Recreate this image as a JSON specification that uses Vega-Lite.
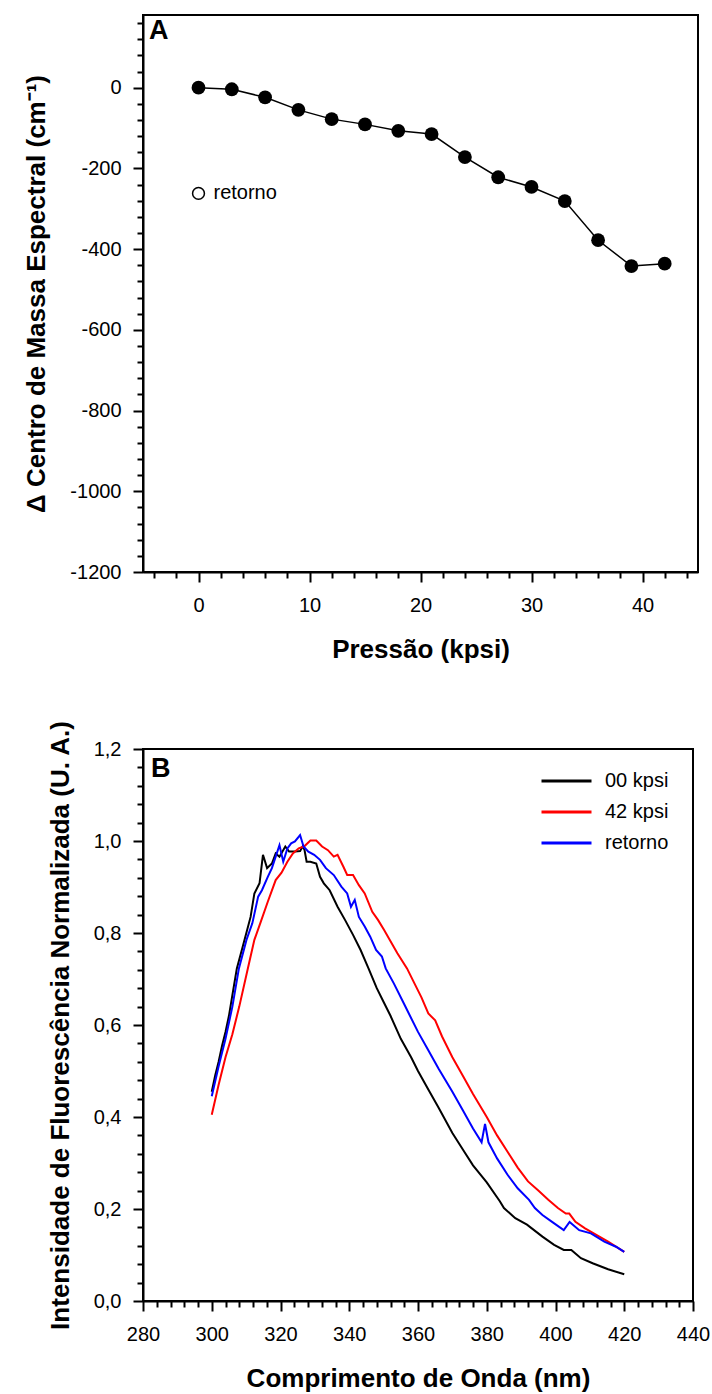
{
"$schema": "https://vega.github.io/schema/vega-lite/v6.json",
"padding": {"left": 22, "top": 12, "right": 5, "bottom": 0},
"spacing": 56,
"resolve": {"legend": {"color": "independent"}},
"config": {
  "view": {"stroke": "black", "strokeWidth": 2},
  "axis": {"domainColor": "black", "domainWidth": 2, "tickColor": "black", "tickWidth": 2, "grid": false,
           "labelFont": "Liberation Sans", "labelFontSize": 20, "labelColor": "black", "labelOverlap": false, "labelBound": false, "labelFlush": false,
           "titleFont": "Liberation Sans", "titleFontSize": 26, "titleFontWeight": "bold", "titleColor": "black"},
  "legend": {"labelFont": "Liberation Sans", "labelFontSize": 20, "labelColor": "black"}
},
"vconcat": [
 {
  "width": 555, "height": 557,
  "encoding": {
    "x": {"field": "p", "type": "quantitative", "scale": {"domain": [-5, 45], "nice": false, "zero": false},
          "axis": {"title": "Pressão (kpsi)", "labelOverlap": false, "values": [-4,-2,0,2,4,6,8,10,12,14,16,18,20,22,24,26,28,30,32,34,36,38,40,42,44],
                   "labelExpr": "datum.value % 10 === 0 ? toString(datum.value) : ''",
                   "tickSize": {"condition": {"test": "datum.value % 10 === 0", "value": 10}, "value": 6},
                   "labelPadding": 13, "titlePadding": 21}},
    "y": {"field": "d", "type": "quantitative", "scale": {"domain": [-1200, 180], "nice": false, "zero": false},
          "axis": {"title": "Δ Centro de Massa Espectral (cm⁻¹)", "labelOverlap": false,
                   "values": [-1200,-1160,-1120,-1080,-1040,-1000,-960,-920,-880,-840,-800,-760,-720,-680,-640,-600,-560,-520,-480,-440,-400,-360,-320,-280,-240,-200,-160,-120,-80,-40,0,40,80,120,160],
                   "labelExpr": "datum.value % 200 === 0 ? toString(datum.value) : ''",
                   "tickSize": {"condition": {"test": "datum.value % 200 === 0", "value": 10}, "value": 6},
                   "labelPadding": 12, "titlePadding": 20}}
  },
  "layer": [
    {"data": {"values": [
      {"p": 0, "d": 0}, {"p": 3, "d": -4}, {"p": 6, "d": -24}, {"p": 9, "d": -55}, {"p": 12, "d": -78},
      {"p": 15, "d": -91}, {"p": 18, "d": -107}, {"p": 21, "d": -115}, {"p": 24, "d": -172}, {"p": 27, "d": -222},
      {"p": 30, "d": -246}, {"p": 33, "d": -281}, {"p": 36, "d": -378}, {"p": 39, "d": -442}, {"p": 42, "d": -436}
     ]},
     "layer": [
       {"mark": {"type": "line", "color": "black", "strokeWidth": 1.5}},
       {"mark": {"type": "point", "filled": true, "color": "black", "size": 190, "opacity": 1}}
     ]},
    {"data": {"values": [{"t": "retorno", "p": 0, "d": -262}]},
     "layer": [
       {"mark": {"type": "point", "filled": false, "color": "black", "strokeWidth": 1.5, "size": 140, "opacity": 1}},
       {"mark": {"type": "text", "align": "left", "baseline": "middle", "dx": 15, "font": "Liberation Sans", "fontSize": 20, "color": "black"},
        "encoding": {"text": {"field": "t"}}}
     ]},
    {"data": {"values": [{"t": "A", "p": -5, "d": 180}]},
     "mark": {"type": "text", "align": "left", "baseline": "top", "dx": 6, "dy": 3, "font": "Liberation Sans", "fontSize": 27, "fontWeight": "bold", "color": "black"},
     "encoding": {"text": {"field": "t"}}}
  ]
 },
 {
  "width": 550, "height": 552,
  "encoding": {
    "x": {"field": "w", "type": "quantitative", "scale": {"domain": [280, 440], "nice": false, "zero": false},
          "axis": {"title": "Comprimento de Onda (nm)", "labelOverlap": false,
                   "values": [280,284,288,292,296,300,304,308,312,316,320,324,328,332,336,340,344,348,352,356,360,364,368,372,376,380,384,388,392,396,400,404,408,412,416,420,424,428,432,436,440],
                   "labelExpr": "datum.value % 20 === 0 ? toString(datum.value) : ''",
                   "tickSize": {"condition": {"test": "datum.value % 20 === 0", "value": 10}, "value": 6},
                   "labelPadding": 13, "titlePadding": 21}},
    "y": {"field": "v", "type": "quantitative", "scale": {"domain": [0, 1.2], "nice": false, "zero": false},
          "axis": {"title": "Intensidade de Fluorescência Normalizada (U. A.)", "labelOverlap": false,
                   "values": [0,0.04,0.08,0.12,0.16,0.2,0.24,0.28,0.32,0.36,0.4,0.44,0.48,0.52,0.56,0.6,0.64,0.68,0.72,0.76,0.8,0.84,0.88,0.92,0.96,1,1.04,1.08,1.12,1.16,1.2],
                   "labelExpr": "abs(datum.value*5 - round(datum.value*5)) < 0.001 ? replace(format(datum.value, '.1f'), '.', ',') : ''",
                   "tickSize": {"condition": {"test": "abs(datum.value*5 - round(datum.value*5)) < 0.001", "value": 10}, "value": 6},
                   "labelPadding": 12, "titlePadding": 20}}
  },
  "layer": [
    {"data": {"values": [
{"s":"00 kpsi","w":300,"v":0.455},{"s":"00 kpsi","w":301,"v":0.49},{"s":"00 kpsi","w":302,"v":0.52},{"s":"00 kpsi","w":303,"v":0.555},{"s":"00 kpsi","w":304,"v":0.585},{"s":"00 kpsi","w":305,"v":0.62},{"s":"00 kpsi","w":306,"v":0.665},{"s":"00 kpsi","w":307.3,"v":0.723},{"s":"00 kpsi","w":309,"v":0.77},{"s":"00 kpsi","w":311.3,"v":0.835},{"s":"00 kpsi","w":312.4,"v":0.886},{"s":"00 kpsi","w":313.9,"v":0.908},{"s":"00 kpsi","w":314.9,"v":0.97},{"s":"00 kpsi","w":316.1,"v":0.941},{"s":"00 kpsi","w":317.5,"v":0.951},{"s":"00 kpsi","w":318.6,"v":0.973},{"s":"00 kpsi","w":319.7,"v":0.966},{"s":"00 kpsi","w":321.4,"v":0.988},{"s":"00 kpsi","w":322.5,"v":0.977},{"s":"00 kpsi","w":324.2,"v":0.977},{"s":"00 kpsi","w":325.7,"v":0.978},{"s":"00 kpsi","w":326.5,"v":0.989},{"s":"00 kpsi","w":327,"v":0.98},{"s":"00 kpsi","w":327.6,"v":0.955},{"s":"00 kpsi","w":328.7,"v":0.955},{"s":"00 kpsi","w":330.4,"v":0.951},{"s":"00 kpsi","w":331.5,"v":0.922},{"s":"00 kpsi","w":332.6,"v":0.908},{"s":"00 kpsi","w":334.3,"v":0.893},{"s":"00 kpsi","w":336.6,"v":0.857},{"s":"00 kpsi","w":338.8,"v":0.828},{"s":"00 kpsi","w":341.1,"v":0.796},{"s":"00 kpsi","w":343.3,"v":0.763},{"s":"00 kpsi","w":345.6,"v":0.723},{"s":"00 kpsi","w":348,"v":0.68},{"s":"00 kpsi","w":350,"v":0.65},{"s":"00 kpsi","w":352,"v":0.62},{"s":"00 kpsi","w":355,"v":0.57},{"s":"00 kpsi","w":358,"v":0.53},{"s":"00 kpsi","w":360,"v":0.5},{"s":"00 kpsi","w":363,"v":0.46},{"s":"00 kpsi","w":366,"v":0.42},{"s":"00 kpsi","w":370,"v":0.365},{"s":"00 kpsi","w":373,"v":0.33},{"s":"00 kpsi","w":376,"v":0.295},{"s":"00 kpsi","w":380,"v":0.258},{"s":"00 kpsi","w":383.8,"v":0.217},{"s":"00 kpsi","w":385,"v":0.202},{"s":"00 kpsi","w":388.3,"v":0.18},{"s":"00 kpsi","w":391.7,"v":0.166},{"s":"00 kpsi","w":396.2,"v":0.14},{"s":"00 kpsi","w":399.6,"v":0.122},{"s":"00 kpsi","w":402.4,"v":0.111},{"s":"00 kpsi","w":404.6,"v":0.111},{"s":"00 kpsi","w":407.4,"v":0.093},{"s":"00 kpsi","w":410.8,"v":0.082},{"s":"00 kpsi","w":415.3,"v":0.069},{"s":"00 kpsi","w":420,"v":0.058},
{"s":"42 kpsi","w":300,"v":0.405},{"s":"42 kpsi","w":302,"v":0.47},{"s":"42 kpsi","w":304,"v":0.53},{"s":"42 kpsi","w":306,"v":0.58},{"s":"42 kpsi","w":308,"v":0.64},{"s":"42 kpsi","w":310.5,"v":0.723},{"s":"42 kpsi","w":312.4,"v":0.785},{"s":"42 kpsi","w":314.1,"v":0.821},{"s":"42 kpsi","w":316.3,"v":0.868},{"s":"42 kpsi","w":318.6,"v":0.915},{"s":"42 kpsi","w":320.3,"v":0.931},{"s":"42 kpsi","w":322,"v":0.955},{"s":"42 kpsi","w":323.6,"v":0.973},{"s":"42 kpsi","w":325.3,"v":0.984},{"s":"42 kpsi","w":327,"v":0.989},{"s":"42 kpsi","w":328.7,"v":1.001},{"s":"42 kpsi","w":330.4,"v":1.001},{"s":"42 kpsi","w":332.1,"v":0.988},{"s":"42 kpsi","w":333.8,"v":0.98},{"s":"42 kpsi","w":335.5,"v":0.966},{"s":"42 kpsi","w":336.6,"v":0.97},{"s":"42 kpsi","w":338.3,"v":0.944},{"s":"42 kpsi","w":339.4,"v":0.926},{"s":"42 kpsi","w":341.1,"v":0.926},{"s":"42 kpsi","w":342.8,"v":0.904},{"s":"42 kpsi","w":344.5,"v":0.886},{"s":"42 kpsi","w":346.7,"v":0.846},{"s":"42 kpsi","w":348.4,"v":0.828},{"s":"42 kpsi","w":350.1,"v":0.807},{"s":"42 kpsi","w":351.8,"v":0.785},{"s":"42 kpsi","w":354,"v":0.756},{"s":"42 kpsi","w":356.8,"v":0.723},{"s":"42 kpsi","w":359,"v":0.69},{"s":"42 kpsi","w":361,"v":0.66},{"s":"42 kpsi","w":363,"v":0.625},{"s":"42 kpsi","w":365,"v":0.61},{"s":"42 kpsi","w":367,"v":0.575},{"s":"42 kpsi","w":370,"v":0.53},{"s":"42 kpsi","w":373,"v":0.49},{"s":"42 kpsi","w":376,"v":0.45},{"s":"42 kpsi","w":380,"v":0.4},{"s":"42 kpsi","w":383,"v":0.36},{"s":"42 kpsi","w":386,"v":0.325},{"s":"42 kpsi","w":389,"v":0.29},{"s":"42 kpsi","w":392,"v":0.26},{"s":"42 kpsi","w":395,"v":0.24},{"s":"42 kpsi","w":397.9,"v":0.22},{"s":"42 kpsi","w":400.7,"v":0.202},{"s":"42 kpsi","w":403,"v":0.19},{"s":"42 kpsi","w":404,"v":0.19},{"s":"42 kpsi","w":405.8,"v":0.172},{"s":"42 kpsi","w":408.6,"v":0.158},{"s":"42 kpsi","w":412,"v":0.143},{"s":"42 kpsi","w":415.3,"v":0.129},{"s":"42 kpsi","w":420,"v":0.107},
{"s":"retorno","w":300,"v":0.445},{"s":"retorno","w":302,"v":0.51},{"s":"retorno","w":304,"v":0.57},{"s":"retorno","w":306,"v":0.64},{"s":"retorno","w":307.9,"v":0.723},{"s":"retorno","w":310.1,"v":0.785},{"s":"retorno","w":311.8,"v":0.821},{"s":"retorno","w":313.5,"v":0.879},{"s":"retorno","w":314.6,"v":0.893},{"s":"retorno","w":316.3,"v":0.922},{"s":"retorno","w":317.5,"v":0.941},{"s":"retorno","w":318.6,"v":0.966},{"s":"retorno","w":319.7,"v":0.991},{"s":"retorno","w":320.8,"v":0.955},{"s":"retorno","w":322,"v":0.984},{"s":"retorno","w":323.1,"v":0.995},{"s":"retorno","w":324.2,"v":0.999},{"s":"retorno","w":325.7,"v":1.013},{"s":"retorno","w":326.7,"v":0.988},{"s":"retorno","w":328.1,"v":0.977},{"s":"retorno","w":329.8,"v":0.97},{"s":"retorno","w":331.5,"v":0.959},{"s":"retorno","w":333.2,"v":0.941},{"s":"retorno","w":335.5,"v":0.926},{"s":"retorno","w":337.7,"v":0.901},{"s":"retorno","w":339.4,"v":0.886},{"s":"retorno","w":340.5,"v":0.857},{"s":"retorno","w":341.6,"v":0.872},{"s":"retorno","w":342.8,"v":0.835},{"s":"retorno","w":344.5,"v":0.814},{"s":"retorno","w":346.1,"v":0.792},{"s":"retorno","w":347.8,"v":0.763},{"s":"retorno","w":349.5,"v":0.749},{"s":"retorno","w":350.6,"v":0.723},{"s":"retorno","w":353,"v":0.69},{"s":"retorno","w":356,"v":0.645},{"s":"retorno","w":360,"v":0.585},{"s":"retorno","w":363,"v":0.545},{"s":"retorno","w":366,"v":0.505},{"s":"retorno","w":370,"v":0.455},{"s":"retorno","w":373,"v":0.415},{"s":"retorno","w":376,"v":0.375},{"s":"retorno","w":378.5,"v":0.345},{"s":"retorno","w":379.5,"v":0.385},{"s":"retorno","w":380.5,"v":0.345},{"s":"retorno","w":383,"v":0.31},{"s":"retorno","w":386,"v":0.275},{"s":"retorno","w":389,"v":0.245},{"s":"retorno","w":392.3,"v":0.22},{"s":"retorno","w":394,"v":0.202},{"s":"retorno","w":396.2,"v":0.187},{"s":"retorno","w":399,"v":0.172},{"s":"retorno","w":402.4,"v":0.154},{"s":"retorno","w":404.1,"v":0.172},{"s":"retorno","w":406.9,"v":0.154},{"s":"retorno","w":410.3,"v":0.147},{"s":"retorno","w":414.2,"v":0.129},{"s":"retorno","w":417.6,"v":0.118},{"s":"retorno","w":420,"v":0.107}
     ]},
     "mark": {"type": "line", "strokeWidth": 2},
     "encoding": {
       "color": {"field": "s", "type": "nominal",
                 "scale": {"domain": ["00 kpsi", "42 kpsi", "retorno"], "range": ["#000000", "#ff0000", "#0000ff"]},
                 "legend": {"title": null, "orient": "none", "legendX": 397, "legendY": 20, "padding": 0, "symbolType": "stroke", "symbolSize": 2500, "symbolStrokeWidth": 3, "labelOffset": 12, "clipHeight": 24, "rowPadding": 7}}
     }},
    {"data": {"values": [{"t": "B", "w": 280, "v": 1.2}]},
     "mark": {"type": "text", "align": "left", "baseline": "top", "dx": 8, "dy": 7, "font": "Liberation Sans", "fontSize": 27, "fontWeight": "bold", "color": "black"},
     "encoding": {"text": {"field": "t"}}}
  ]
 }
]
}
